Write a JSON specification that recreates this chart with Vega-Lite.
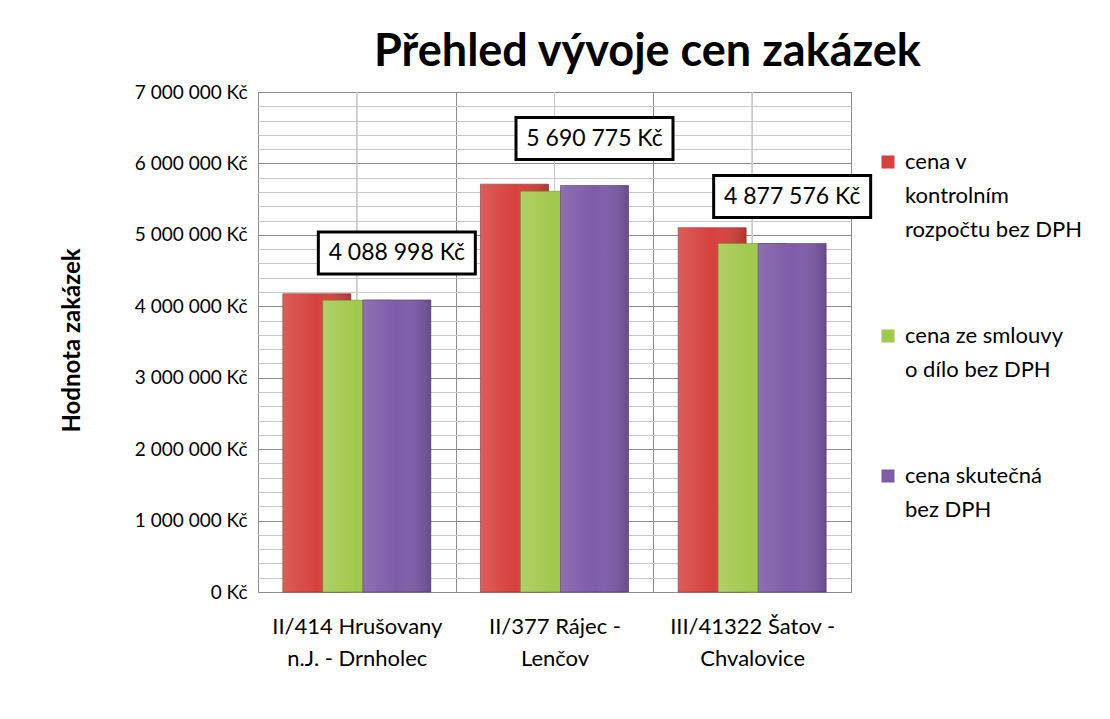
{
  "$schema": "https://vega.github.io/schema/vega-lite/v6.json",
  "width": 593,
  "height": 500,
  "autosize": {"type": "none"},
  "padding": {"left": 258, "top": 92, "right": 259, "bottom": 127},
  "background": "white",
  "title": {
    "text": "Přehled vývoje cen zakázek",
    "font": "Lato",
    "fontSize": 45,
    "fontWeight": "bold",
    "color": "black",
    "anchor": "middle",
    "dx": 93,
    "baseline": "alphabetic",
    "offset": -28
  },
  "data": {
    "values": [
      {"usek": "II/414 Hrušovany n.J. - Drnholec", "rada": "cena v kontrolním rozpočtu bez DPH", "hodnota": 4175000},
      {"usek": "II/414 Hrušovany n.J. - Drnholec", "rada": "cena ze smlouvy o dílo bez DPH", "hodnota": 4085000},
      {"usek": "II/414 Hrušovany n.J. - Drnholec", "rada": "cena skutečná bez DPH", "hodnota": 4088998},
      {"usek": "II/377 Rájec - Lenčov", "rada": "cena v kontrolním rozpočtu bez DPH", "hodnota": 5710000},
      {"usek": "II/377 Rájec - Lenčov", "rada": "cena ze smlouvy o dílo bez DPH", "hodnota": 5610000},
      {"usek": "II/377 Rájec - Lenčov", "rada": "cena skutečná bez DPH", "hodnota": 5690775},
      {"usek": "III/41322 Šatov - Chvalovice", "rada": "cena v kontrolním rozpočtu bez DPH", "hodnota": 5100000},
      {"usek": "III/41322 Šatov - Chvalovice", "rada": "cena ze smlouvy o dílo bez DPH", "hodnota": 4880000},
      {"usek": "III/41322 Šatov - Chvalovice", "rada": "cena skutečná bez DPH", "hodnota": 4877576}
    ]
  },
  "layer": [
    {
      "mark": {"type": "rule", "stroke": "#C8C8C8", "strokeWidth": 1},
      "encoding": {
        "x": {
          "field": "usek", "type": "nominal", "sort": null,
          "scale": {"paddingInner": 0, "paddingOuter": 0},
          "axis": {
            "title": null,
            "grid": true,
            "tickBand": "extent",
            "gridColor": "#8C8C8C",
            "gridWidth": 1,
            "ticks": false,
            "domain": false,
            "labelAngle": 0,
            "labelFont": "Lato",
            "labelFontSize": 22,
            "labelColor": "black",
            "labelPadding": 34,
            "labelLineHeight": 32,
            "labelBaseline": "middle",
            "labelLimit": 300,
            "labelExpr": "{'II/414 Hrušovany n.J. - Drnholec': ['II/414 Hrušovany', 'n.J. - Drnholec'], 'II/377 Rájec - Lenčov': ['II/377 Rájec -', 'Lenčov'], 'III/41322 Šatov - Chvalovice': ['III/41322 Šatov -', 'Chvalovice']}[datum.label]"
          }
        }
      }
    },
    {
      "transform": [{"filter": "datum.rada == 'cena v kontrolním rozpočtu bez DPH'"}],
      "mark": {"type": "bar", "width": 68, "xOffset": -40, "stroke": "#8E2A27", "strokeWidth": 0.6},
      "encoding": {
        "x": {"field": "usek", "type": "nominal", "sort": null},
        "y": {
          "field": "hodnota", "type": "quantitative",
          "scale": {"domain": [0, 7000000], "nice": false},
          "axis": {
            "title": "Hodnota zakázek",
            "titleFont": "Lato",
            "titleFontSize": 24,
            "titleFontWeight": "bold",
            "titleColor": "black",
            "titleX": -186,
            "titleY": 248,
            "titleAngle": -90,
            "titleAlign": "center",
            "titleBaseline": "middle",
            "tickCount": 100,
            "labelOverlap": false,
            "values": [0,200000,400000,600000,800000,1000000,1200000,1400000,1600000,1800000,2000000,2200000,2400000,2600000,2800000,3000000,3200000,3400000,3600000,3800000,4000000,4200000,4400000,4600000,4800000,5000000,5200000,5400000,5600000,5800000,6000000,6200000,6400000,6600000,6800000,7000000],
            "labelExpr": "datum.value === 0 ? '0 Kč' : (datum.value % 1000000 === 0 ? (datum.value / 1000000) + ' 000 000 Kč' : '')",
            "labelFont": "Lato",
            "labelFontSize": 19,
            "labelColor": "black",
            "labelPadding": 11,
            "ticks": false,
            "domain": false,
            "grid": true,
            "gridColor": {"condition": {"test": "datum.value % 1000000 === 0", "value": "#8C8C8C"}, "value": "#C8C8C8"},
            "gridWidth": 1
          }
        },
        "color": {
          "field": "rada", "type": "nominal",
          "scale": {
            "domain": ["cena v kontrolním rozpočtu bez DPH", "cena ze smlouvy o dílo bez DPH", "cena skutečná bez DPH"],
            "range": ["#D6413D", "#A2C84C", "#7E5CA8"]
          },
          "legend": {
            "title": null,
            "orient": "none",
            "legendX": 619,
            "legendY": 59,
            "symbolType": "square",
            "symbolSize": 170,
            "symbolStrokeWidth": 0,
            "labelFont": "Lato",
            "labelFontSize": 22,
            "labelColor": "black",
            "labelOffset": 6,
            "labelLimit": 300,
            "labelBaseline": "middle",
            "rowPadding": 84,
            "labelExpr": "{'cena v kontrolním rozpočtu bez DPH': ['cena v', 'kontrolním', 'rozpočtu bez DPH'], 'cena ze smlouvy o dílo bez DPH': ['cena ze smlouvy', 'o dílo bez DPH'], 'cena skutečná bez DPH': ['cena skutečná', 'bez DPH']}[datum.label]"
          }
        }
      }
    },
    {
      "transform": [{"filter": "datum.rada == 'cena v kontrolním rozpočtu bez DPH'"}],
      "mark": {"type": "bar", "width": 68, "xOffset": -40, "fill": {"gradient": "linear", "x1": 0, "y1": 0, "x2": 1, "y2": 0, "stops": [{"offset": 0, "color": "rgba(255,255,255,0.15)"}, {"offset": 0.5, "color": "rgba(255,255,255,0)"}, {"offset": 1, "color": "rgba(0,0,0,0.18)"}]}},
      "encoding": {
        "x": {"field": "usek", "type": "nominal", "sort": null},
        "y": {"field": "hodnota", "type": "quantitative"}
      }
    },
    {
      "transform": [{"filter": "datum.rada == 'cena ze smlouvy o dílo bez DPH'"}],
      "mark": {"type": "bar", "width": 68, "xOffset": 0, "stroke": "#6C8A2E", "strokeWidth": 0.6},
      "encoding": {
        "x": {"field": "usek", "type": "nominal", "sort": null},
        "y": {"field": "hodnota", "type": "quantitative"},
        "color": {"field": "rada", "type": "nominal"}
      }
    },
    {
      "transform": [{"filter": "datum.rada == 'cena ze smlouvy o dílo bez DPH'"}],
      "mark": {"type": "bar", "width": 68, "xOffset": 0, "fill": {"gradient": "linear", "x1": 0, "y1": 0, "x2": 1, "y2": 0, "stops": [{"offset": 0, "color": "rgba(255,255,255,0.15)"}, {"offset": 0.5, "color": "rgba(255,255,255,0)"}, {"offset": 1, "color": "rgba(0,0,0,0.15)"}]}},
      "encoding": {
        "x": {"field": "usek", "type": "nominal", "sort": null},
        "y": {"field": "hodnota", "type": "quantitative"}
      }
    },
    {
      "transform": [{"filter": "datum.rada == 'cena skutečná bez DPH'"}],
      "mark": {"type": "bar", "width": 68, "xOffset": 40, "stroke": "#4F3670", "strokeWidth": 0.6},
      "encoding": {
        "x": {"field": "usek", "type": "nominal", "sort": null},
        "y": {"field": "hodnota", "type": "quantitative"},
        "color": {"field": "rada", "type": "nominal"}
      }
    },
    {
      "transform": [{"filter": "datum.rada == 'cena skutečná bez DPH'"}],
      "mark": {"type": "bar", "width": 68, "xOffset": 40, "fill": {"gradient": "linear", "x1": 0, "y1": 0, "x2": 1, "y2": 0, "stops": [{"offset": 0, "color": "rgba(255,255,255,0.12)"}, {"offset": 0.5, "color": "rgba(255,255,255,0)"}, {"offset": 1, "color": "rgba(0,0,0,0.18)"}]}},
      "encoding": {
        "x": {"field": "usek", "type": "nominal", "sort": null},
        "y": {"field": "hodnota", "type": "quantitative"}
      }
    },
    {
      "transform": [{"filter": "datum.rada == 'cena skutečná bez DPH'"}],
      "mark": {"type": "point", "shape": "M-1,-0.2675L1,-0.2675L1,0.2675L-1,0.2675Z", "size": 24649, "filled": true, "fill": "white", "stroke": "black", "strokeWidth": 3, "opacity": 1, "fillOpacity": 1, "strokeOpacity": 1, "xOffset": 40, "yOffset": -47},
      "encoding": {
        "x": {"field": "usek", "type": "nominal", "sort": null},
        "y": {"field": "hodnota", "type": "quantitative"}
      }
    },
    {
      "transform": [{"filter": "datum.rada == 'cena skutečná bez DPH'"}],
      "mark": {"type": "text", "font": "Lato", "fontSize": 23, "color": "black", "align": "center", "baseline": "middle", "xOffset": 40, "yOffset": -47},
      "encoding": {
        "x": {"field": "usek", "type": "nominal", "sort": null},
        "y": {"field": "hodnota", "type": "quantitative"},
        "text": {"field": "hodnota", "type": "quantitative", "format": "$,d"}
      }
    }
  ],
  "config": {
    "locale": {"number": {"decimal": ",", "thousands": " ", "grouping": [3], "currency": ["", " Kč"]}},
    "view": {"stroke": "#8C8C8C", "strokeWidth": 1},
    "style": {"guide-label": {"lineHeight": 34}}
  }
}
